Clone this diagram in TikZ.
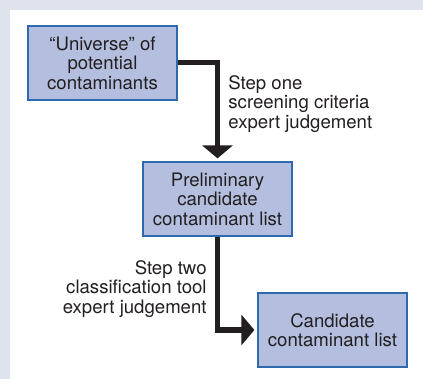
\documentclass[tikz,border=0pt]{standalone}
\usepackage{fontspec}
\setmainfont{TeX Gyre Heros}
\usetikzlibrary{arrows.meta}
\definecolor{panelbg}{HTML}{DEE3EE}
\definecolor{boxfill}{HTML}{B4BEDE}
\definecolor{boxline}{HTML}{2D6BAE}
\definecolor{ink}{HTML}{231F20}
\begin{document}
\begin{tikzpicture}[x=0.5pt,y=-0.5pt]
\tikzset{
    stage/.style={draw=boxline, line width=0.6pt, fill=boxfill, text=ink,
        minimum width=74.5pt, minimum height=37pt, align=center,
        inner sep=0pt, font=\fontsize{9.3}{9.7}\selectfont},
    steptext/.style={inner sep=0pt, text=ink, font=\fontsize{9.3}{9.7}\selectfont},
    flow/.style={draw=ink, line width=2.5pt, -{Triangle[width=15pt,length=6.5pt]}}
}
% Background
\useasboundingbox (0,0) rectangle (423,379);
\fill[panelbg] (0,0) rectangle (423,379);
\fill[white] (10,10) rectangle (423,379);
% Boxes
\node[stage] (universe) at (102.5,63){``Universe'' of\\potential\\contaminants};
\node[stage] (prelim) at (217.5,199){Preliminary\\candidate\\contaminant list};
\node[stage] (ccl) at (332.5,330){Candidate\\contaminant list};
% Steps
\draw[flow, shorten >=1.5pt](universe.east)-|(prelim.north);
\draw[flow, shorten >=1.5pt](prelim.south)|-(ccl.west);
\node[steptext, anchor=north west, align=left] (stepone) at (228,75){Step one\\screening criteria\\expert judgement};
\node[steptext, anchor=north east, align=right] (steptwo) at (207,260){Step two\\classification tool\\expert judgement};
\end{tikzpicture}
\end{document}
